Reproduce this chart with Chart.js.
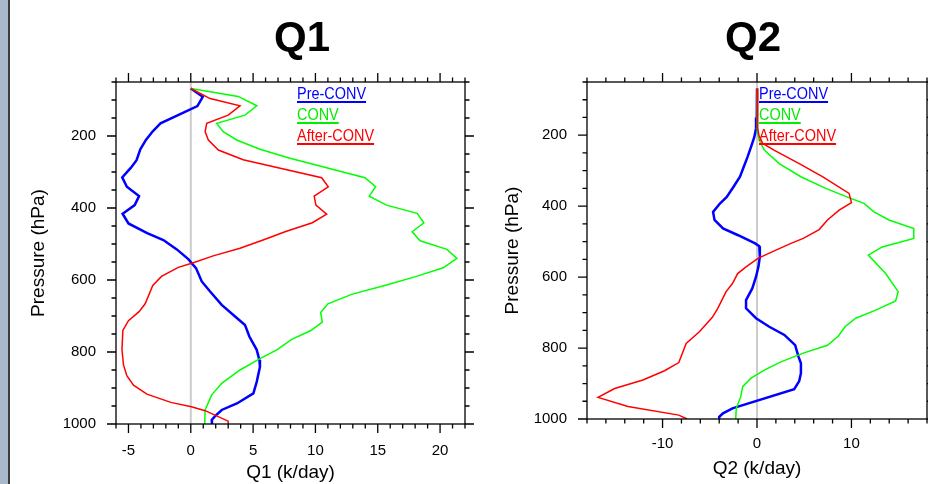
<!DOCTYPE html>
<html><head><meta charset="utf-8">
<script src="https://cdn.jsdelivr.net/npm/chart.js@4.4.1/dist/chart.umd.min.js"></script>
<style>
html,body{margin:0;padding:0;background:#fff;}
body{width:928px;height:484px;position:relative;overflow:hidden;font-family:"Liberation Sans",Arial,sans-serif;color:#000;}
canvas{position:absolute;top:0;}
#c1{left:0;}
#c2{left:480px;}
.sidebar{position:absolute;left:0;top:0;width:8px;height:484px;background:#a9b9c9;z-index:2;}
.sideline{position:absolute;left:8px;top:0;width:2px;height:484px;background:#3c3c3c;z-index:2;}
.title{position:absolute;top:16px;width:200px;text-align:center;font-weight:bold;font-size:42px;line-height:42px;}
.leg{position:absolute;font-size:17px;line-height:17px;white-space:nowrap;transform:scaleX(0.85);transform-origin:0 0;text-decoration:underline;text-decoration-thickness:1.5px;text-underline-offset:2px;}
</style></head>
<body>
<div class="sidebar"></div><div class="sideline"></div>
<canvas id="c1" width="480" height="484"></canvas>
<canvas id="c2" width="448" height="484"></canvas>
<div class="title" style="left:202px;">Q1</div>
<div class="title" style="left:653px;">Q2</div>
<div class="leg" style="left:297px;top:85px;color:#0000ff;">Pre-CONV</div>
<div class="leg" style="left:297px;top:106px;color:#00ee00;">CONV</div>
<div class="leg" style="left:297px;top:127px;color:#ff0000;">After-CONV</div>
<div class="leg" style="left:759px;top:85px;color:#0000ff;">Pre-CONV</div>
<div class="leg" style="left:759px;top:106px;color:#00ee00;">CONV</div>
<div class="leg" style="left:759px;top:127px;color:#ff0000;">After-CONV</div>
<script>
// ---------- Data ----------
const seriesNames = ['Pre-CONV', 'CONV', 'After-CONV'];
const yTicks = [200, 400, 600, 800, 1000];
const q1XTicks = [-5, 0, 5, 10, 15, 20];
const q2XTicks = [-10, 0, 10];

// Q1 (k/day)
const q1PreP = [68,91,117,165,187,211,237,267,288,315,341,367,392,416,443,470,489,515,542,567,604,632,669,709,725,757,794,822,841,883,915,943,961,978,989,1000];
const q1PreV = [0,0.96,0.53,-2.43,-3.05,-3.6,-4.05,-4.35,-4.8,-5.5,-5.13,-4.15,-4.5,-5.47,-5.0,-3.5,-2.2,-1.12,-0.2,0.42,0.88,1.55,2.48,3.81,4.35,4.7,5.29,5.5,5.55,5.29,5.02,3.7,2.48,1.95,1.68,1.7];
const q1ConvP = [68,90,116,142,165,188,211,237,262,316,341,367,392,415,441,466,491,515,540,566,590,614,640,666,690,717,741,765,794,820,850,887,919,961,1000];
const q1ConvV = [0,3.8,5.3,4.35,2.08,2.6,3.68,5.55,7.96,13.97,14.83,14.32,15.7,18.16,18.7,17.76,18.4,20.55,21.35,20.25,18.1,15.7,12.9,11.0,10.42,10.55,9.6,8.1,6.9,5.48,3.95,2.48,1.68,1.15,1.12];
const q1AfterP = [68,96,116,142,165,188,211,239,266,316,341,367,392,417,441,466,489,512,533,552,565,590,615,666,688,713,740,794,836,866,892,917,940,952,963,992,1000];
const q1AfterV = [0,1.55,3.95,3.0,1.28,1.15,1.41,2.21,4.2,10.5,11.03,9.9,10.04,10.9,9.75,7.56,5.8,3.95,1.8,0.2,-1.0,-2.35,-3.05,-3.66,-4.15,-5.0,-5.45,-5.52,-5.4,-5.13,-4.6,-3.52,-1.6,0.05,1.15,3.0,3.0];

// Q2 (k/day)
const q2PreP = [68,150,180,205,233,261,289,317,346,374,392,416,439,463,482,505,513,543,571,599,632,665,688,716,740,763,792,825,843,871,893,916,970,984,994,1000];
const q2PreV = [0,-0.02,-0.1,-0.28,-0.63,-1.0,-1.4,-1.8,-2.5,-3.2,-3.9,-4.65,-4.5,-3.6,-2.0,-0.2,0.24,0.3,0.15,-0.1,-0.5,-1.16,-1.16,-0.1,1.3,2.9,4.04,4.4,4.65,4.65,4.47,3.94,-2.6,-3.6,-4.0,-4.0];
const q2ConvP = [68,150,190,214,242,280,317,350,378,392,416,439,463,491,515,538,590,641,667,693,716,740,766,792,815,839,862,885,909,937,970,1000];
const q2ConvV = [0,0.02,0.05,0.24,0.77,2.35,4.64,7.28,9.92,11.33,12.39,13.97,16.6,16.6,13.26,11.79,13.62,14.95,14.68,12.57,10.45,9.32,8.62,7.46,4.82,2.53,0.77,-0.63,-1.52,-1.72,-2.2,-2.25];
const q2AfterP = [68,150,180,200,223,242,280,317,364,390,411,439,466,491,505,524,547,571,590,618,641,669,688,714,754,787,841,864,890,914,939,965,989,1000];
const q2AfterV = [0,0.05,0.1,0.2,0.6,1.8,4.47,6.93,9.75,10.0,8.7,7.46,6.58,4.9,3.6,2.0,0.1,-1.16,-2.05,-2.6,-3.27,-3.8,-4.15,-4.75,-6.1,-7.5,-8.28,-9.79,-12.08,-15.07,-16.83,-13.66,-8.28,-7.4];

// ---------- Helpers ----------
const FONT = '"Liberation Sans", Arial, Helvetica, sans-serif';
const P_MIN = 50, P_MAX = 1000;
function pts(p, v) { return p.map((pp, i) => ({x: v[i], y: pp})); }
function range(a, b, s) { const r = []; for (let v = a; v <= b + 1e-9; v += s) r.push(v); return r; }

const framePlugin = {
  id: 'frame',
  afterDatasetsDraw(chart, args, o) {
    const {ctx, chartArea: a, scales: {x, y}} = chart;
    ctx.save();
    ctx.strokeStyle = '#000';
    ctx.lineWidth = 1.3;
    ctx.beginPath();
    o.xMinor.forEach(v => {
      const px = x.getPixelForValue(v);
      const L = o.xMajor.includes(v) ? 9 : 4.5;
      ctx.moveTo(px, a.top); ctx.lineTo(px, a.top - L);
      ctx.moveTo(px, a.bottom); ctx.lineTo(px, a.bottom + L);
    });
    o.yMinor.forEach(v => {
      const py = y.getPixelForValue(v);
      const L = o.yMajor.includes(v) ? 9 : 4.5;
      ctx.moveTo(a.left, py); ctx.lineTo(a.left - L, py);
      ctx.moveTo(a.right, py); ctx.lineTo(a.right + L, py);
    });
    ctx.stroke();
    ctx.strokeRect(a.left, a.top, a.right - a.left, a.bottom - a.top);
    ctx.restore();
  }
};

function makeChart(id, cfg) {
  const ds = (label, data, color, w) => ({label, data, borderColor: color, borderWidth: w, showLine: true, pointRadius: 0, tension: 0, fill: false});
  return new Chart(document.getElementById(id), {
    type: 'scatter',
    data: {
      datasets: [
        ds(seriesNames[2], pts(cfg.afterP, cfg.afterV), '#ff0000', 1.5),
        ds(seriesNames[1], pts(cfg.convP, cfg.convV), '#00ff00', 1.5),
        ds(seriesNames[0], pts(cfg.preP, cfg.preV), '#0000ff', 2.5),
        ds('zero', [{x: 0, y: P_MIN}, {x: 0, y: P_MAX}], '#cccccc', 2)
      ]
    },
    options: {
      responsive: false,
      animation: false,
      events: [],
      layout: {padding: {left: 0, top: cfg.top, right: cfg.padRight, bottom: 0}},
      plugins: {
        legend: {display: false},
        tooltip: {enabled: false},
        frame: {xMajor: cfg.xTicks, xMinor: cfg.xMinor, yMajor: yTicks, yMinor: range(P_MIN, P_MAX, 50)}
      },
      scales: {
        x: {
          type: 'linear', position: 'bottom', min: cfg.xMin, max: cfg.xMax,
          afterBuildTicks: s => { s.ticks = cfg.xTicks.map(v => ({value: v})); },
          afterFit: s => { s.height = cfg.xHeight; },
          grid: {display: false, drawTicks: false},
          border: {display: false},
          ticks: {autoSkip: false, maxRotation: 0, minRotation: 0, padding: cfg.xTickPad, color: '#000',
                  font: {family: FONT, size: 15}, callback: v => String(v)},
          title: {display: true, text: cfg.xTitle, color: '#000', font: {family: FONT, size: 19},
                  padding: {top: 0, bottom: cfg.xTitlePad}}
        },
        y: {
          type: 'linear', position: 'left', reverse: true, min: P_MIN, max: P_MAX,
          afterBuildTicks: s => { s.ticks = yTicks.map(v => ({value: v})); },
          afterFit: s => { s.width = cfg.yWidth; },
          grid: {display: false, drawTicks: false},
          border: {display: false},
          ticks: {autoSkip: false, padding: 20, color: '#000', font: {family: FONT, size: 15}, callback: v => String(v)},
          title: {display: true, text: 'Pressure (hPa)', color: '#000', font: {family: FONT, size: 19},
                  padding: {top: cfg.yTitlePad, bottom: 0}}
        }
      }
    },
    plugins: [framePlugin]
  });
}

makeChart('c1', {
  preP: q1PreP, preV: q1PreV, convP: q1ConvP, convV: q1ConvV, afterP: q1AfterP, afterV: q1AfterV,
  xMin: -6, xMax: 22, xTicks: q1XTicks, xMinor: range(-6, 22, 1), xTitle: 'Q1 (k/day)',
  top: 82, padRight: 15, xHeight: 60, yWidth: 116, xTickPad: 17.5, xTitlePad: 0, yTitlePad: 27.5
});
makeChart('c2', {
  preP: q2PreP, preV: q2PreV, convP: q2ConvP, convV: q2ConvV, afterP: q2AfterP, afterV: q2AfterV,
  xMin: -18, xMax: 18, xTicks: q2XTicks, xMinor: range(-18, 18, 2), xTitle: 'Q2 (k/day)',
  top: 82, padRight: 1, xHeight: 65, yWidth: 107, xTickPad: 16, xTitlePad: 3.5, yTitlePad: 21
});
</script>
</body></html>
